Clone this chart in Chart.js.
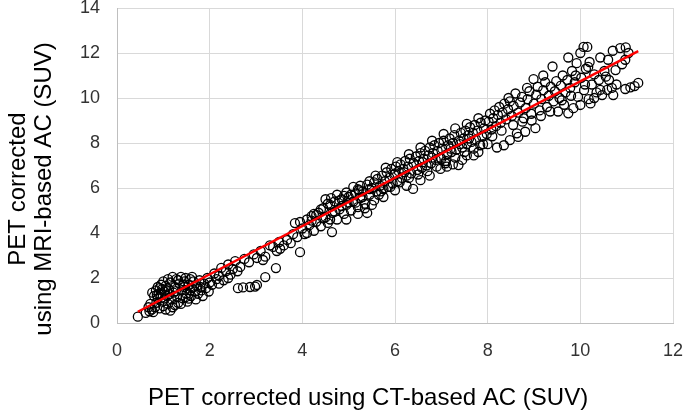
<!DOCTYPE html>
<html>
<head>
<meta charset="utf-8">
<script src="https://cdn.jsdelivr.net/npm/chart.js@4"></script>
<style>
  html, body { margin: 0; padding: 0; background: #ffffff; }
  #wrap { width: 685px; height: 412px; }
</style>
</head>
<body>
<div id="wrap"><canvas id="c" width="685" height="412"></canvas></div>
<script>
// ---- data (SUV: x = CT-based AC, y = MRI-based AC) ----
const lowRange = [
  [0.45,0.28],[0.62,0.45],[0.70,0.52],[0.75,0.60],[0.78,0.48],[0.82,0.70],[0.85,0.90],[0.88,1.10],[0.90,1.30],[0.80,1.20],
  [0.76,1.35],[0.84,1.45],[0.92,1.55],[0.95,1.25],[0.98,0.95],[1.00,0.75],[1.02,1.40],[1.05,1.65],[1.08,1.20],[1.10,0.85],
  [1.12,1.50],[1.15,1.80],[1.18,1.05],[1.20,0.70],[1.22,1.35],[1.25,1.60],[1.28,1.95],[1.30,1.15],[1.32,0.90],[1.35,1.75],
  [1.38,2.05],[1.40,1.45],[1.42,1.10],[1.45,1.85],[1.48,2.00],[1.50,1.30],[1.52,0.95],[1.55,1.70],[1.58,1.95],[1.60,1.20],
  [1.62,1.55],[1.65,1.85],[1.68,1.40],[1.70,1.05],[0.95,1.70],[1.00,1.85],[0.88,1.60],[1.05,0.60],[1.15,0.55],[1.25,0.80],
  [1.38,0.85],[1.45,1.60],[1.72,1.65],[1.75,1.30],[1.78,1.90],[1.82,1.45],[1.85,1.20],[1.88,1.75],[1.92,1.55],[1.95,2.00],
  [1.98,1.40],[0.72,0.85],[0.68,0.70],[0.92,0.65],[1.10,1.95],[1.20,2.05],[1.32,1.90],[1.48,1.15],[1.58,1.45],[1.62,2.05],
  [0.86,1.25],[1.03,1.08],[1.13,1.28],[1.27,1.42],[1.43,1.70],[1.55,1.08],[1.66,1.62],[1.80,1.60],[2.00,1.80],[0.98,1.52]
];
const lowMidRange = [
  [2.05,1.70],[2.10,2.20],[2.15,1.95],[2.20,2.10],[2.25,2.45],[2.30,1.90],[2.35,2.30],[2.40,2.60],[2.45,2.15],[2.50,2.40],
  [2.55,2.75],[2.60,2.30],[2.61,1.55],[2.72,1.58],[2.87,1.60],[2.98,1.62],[3.02,1.69],[3.20,2.04],[3.43,2.44],[2.66,2.49],
  [2.75,2.85],[2.85,2.70],[2.95,3.05],[3.02,2.89],[3.10,3.20],[3.20,2.95],[3.30,3.45],[3.37,3.38],[3.45,3.20],[3.50,3.60],
  [3.60,3.45],[3.67,3.69],[3.75,3.55],[3.80,3.95],[3.89,3.82],[2.20,1.75],[2.40,2.00],[3.95,3.15],[3.52,3.30],[3.15,2.80]
];
const midRange = [
  [3.84,4.44],[3.95,4.49],[4.00,4.20],[4.05,3.95],[4.10,4.60],[4.15,4.35],[4.20,4.75],[4.25,4.10],[4.30,4.50],[4.35,4.90],
  [4.40,4.30],[4.45,5.10],[4.50,4.70],[4.55,4.45],[4.60,5.25],[4.64,4.04],[4.65,4.90],[4.70,5.40],[4.75,4.60],[4.80,5.05],
  [4.85,5.50],[4.90,4.85],[4.95,5.25],[5.00,5.60],[5.05,5.00],[5.10,5.40],[5.15,5.75],[5.20,5.15],[5.25,5.55],[5.30,5.85],
  [5.35,5.30],[5.40,4.89],[5.45,5.70],[5.50,6.00],[5.55,5.45],[5.60,5.85],[4.25,4.85],[4.40,5.05],[4.55,5.30],[4.70,4.95],
  [4.85,5.20],[5.00,5.35],[5.15,5.35],[5.30,5.60],[5.45,5.95],[4.50,5.50],[4.75,5.70],[4.95,5.80],[5.10,6.05],[5.25,6.10],
  [5.40,6.15],[5.55,6.25],[4.95,4.60],[5.20,4.85],[5.35,5.10],[5.50,5.25],[4.10,4.00],[4.30,4.80],[4.60,4.60],[4.62,5.55],
  [4.80,5.45],[4.20,4.55],[4.45,4.65],[5.05,5.70],[5.22,5.90],[5.45,6.30],[5.20,5.95],[4.90,5.65]
];
const upperMidRange = [
  [5.62,6.40],[5.65,5.70],[5.68,6.10],[5.72,6.55],[5.75,5.95],[5.78,6.30],[5.82,6.70],[5.85,6.05],[5.88,6.45],[5.92,6.85],
  [5.95,6.20],[5.98,6.60],[6.02,6.95],[6.05,6.30],[6.08,6.75],[6.12,7.05],[6.15,6.45],[6.18,6.85],[6.22,7.20],[6.25,6.55],
  [6.28,6.95],[6.32,7.30],[6.35,6.65],[6.39,5.96],[6.40,7.10],[6.45,7.40],[6.48,6.80],[6.52,7.20],[6.55,7.55],[6.58,6.90],
  [6.62,7.30],[6.65,7.65],[6.68,7.00],[6.72,7.45],[6.75,7.80],[6.78,7.10],[6.82,7.55],[6.85,7.90],[6.88,7.25],[6.92,7.65],
  [6.95,8.00],[6.98,7.35],[7.02,7.75],[7.05,8.10],[7.09,7.10],[7.12,7.50],[7.15,7.90],[7.18,8.20],[7.22,7.60],[7.25,8.00],
  [7.28,8.35],[7.32,7.70],[7.37,7.02],[7.38,8.10],[7.42,8.45],[7.45,7.80],[7.48,8.20],[7.52,8.55],[7.55,7.95],[7.58,8.35],
  [7.62,8.70],[7.65,8.05],[7.68,8.45],[7.72,8.80],[7.75,8.15],[7.78,8.55],[7.84,7.90],[7.85,8.90],[7.88,8.30],[7.92,8.65],
  [7.95,9.00],[7.98,8.40],[5.70,5.85],[5.90,6.05],[6.10,6.25],[6.30,6.45],[6.50,6.60],[6.70,6.75],[6.90,6.95],[7.10,7.20],
  [7.30,7.35],[7.50,7.60],[7.70,7.75],[7.90,7.95],[6.00,6.65],[6.20,6.70],[6.60,7.15],[6.80,7.35],[7.00,7.30],[7.20,7.75],
  [7.40,7.95],[7.60,8.20],[6.98,6.85],[7.12,6.95],[7.55,7.45],[7.80,7.60]
];
const bandEdges = [
  [5.58,6.55],[5.80,6.90],[6.05,7.15],[6.30,7.50],[6.55,7.80],[6.80,8.10],[7.05,8.40],[7.30,8.65],[7.55,8.85],[7.80,9.10],
  [5.75,5.60],[6.00,5.90],[6.25,6.10],[6.55,6.35],[6.75,6.55],[7.25,7.05],[7.45,7.25],[7.70,7.45],[8.00,7.95]
];
const highRange = [
  [8.02,8.95],[8.05,9.30],[8.08,8.60],[8.12,9.10],[8.15,9.45],[8.18,8.75],[8.20,7.80],[8.22,9.25],[8.25,9.60],[8.28,8.90],
  [8.32,9.35],[8.35,7.90],[8.36,9.75],[8.40,9.05],[8.44,9.50],[8.48,8.13],[8.48,9.85],[8.52,9.20],[8.56,9.65],[8.60,10.20],
  [8.63,8.43],[8.66,8.27],[8.66,9.35],[8.70,9.80],[8.74,10.05],[8.78,9.10],[8.81,8.50],[8.82,9.55],[8.86,9.95],[8.90,10.30],
  [8.94,9.30],[8.99,10.84],[9.00,9.75],[9.03,8.66],[9.05,10.15],[9.08,10.50],[9.12,9.45],[9.16,9.95],[9.20,10.35],[9.24,10.70],
  [9.28,9.60],[9.32,10.10],[9.36,10.50],[9.40,11.40],[9.42,9.85],[9.45,10.30],[9.48,10.75],[8.10,8.30],[8.30,8.55],[8.55,8.80],
  [8.75,8.95],[8.95,9.00],[9.15,9.20],[9.35,9.40],[8.45,10.00],[8.85,10.45],[9.20,11.00]
];
const topRange = [
  [9.52,9.40],[9.55,10.00],[9.58,10.55],[9.62,11.00],[9.65,9.70],[9.68,10.25],[9.72,10.80],[9.74,11.80],[9.74,9.32],[9.78,10.45],
  [9.82,11.20],[9.85,9.55],[9.88,10.70],[9.92,11.55],[9.95,10.05],[10.00,9.69],[10.00,12.00],[10.02,10.90],[10.07,12.27],[10.08,10.35],
  [10.12,11.30],[10.15,12.27],[10.17,11.38],[10.18,9.95],[10.22,9.76],[10.25,10.60],[10.30,11.05],[10.35,10.25],[10.40,10.80],[10.43,11.80],
  [10.43,10.36],[10.47,10.13],[10.52,11.20],[10.58,10.36],[10.60,11.70],[10.62,10.80],[10.68,10.45],[10.70,12.10],[10.71,10.13],[10.76,11.24],
  [10.78,10.60],[10.86,12.22],[10.97,11.70],[10.98,12.25],[10.97,10.40],[11.04,12.00],[11.08,10.47],[11.17,10.53],[11.25,10.67],[9.60,9.90],
  [9.80,10.10],[10.10,10.60],[10.30,10.00],[10.55,10.95],[10.90,11.50],[9.90,11.00],[10.20,11.60]
];
// regression (trend) line end points
const fitX = [0.45, 11.25];
const fitY = [0.50, 12.08];
// axis settings
const xMin = 0, xMax = 12, xStep = 2;
const yMin = 0, yMax = 14, yStep = 2;
const xTitle = "PET corrected using CT-based AC (SUV)";
const yTitleLines = ["PET corrected", "using MRI-based AC (SUV)"];

const allPoints = [].concat(lowRange, lowMidRange, midRange, upperMidRange, bandEdges, highRange, topRange)
  .map(p => ({ x: p[0], y: p[1] }));
const fitPoints = fitX.map((x, i) => ({ x: x, y: fitY[i] }));

const FONT = '"Liberation Sans", Arial, sans-serif';

const titlePlugin = {
  id: 'axisTitles',
  afterDraw(chart) {
    const ctx = chart.ctx;
    ctx.save();
    ctx.fillStyle = '#000000';
    ctx.font = '24px ' + FONT;
    ctx.textAlign = 'left';
    ctx.textBaseline = 'alphabetic';
    ctx.fillText(xTitle, 148, 405);
    ctx.translate(0, 189);
    ctx.rotate(-Math.PI / 2);
    ctx.textAlign = 'center';
    ctx.fillText(yTitleLines[0], 0, 25);
    ctx.fillText(yTitleLines[1], 0, 51);
    ctx.restore();
  }
};

new Chart(document.getElementById('c'), {
  type: 'scatter',
  data: {
    datasets: [
      {
        label: 'fit',
        data: fitPoints,
        showLine: true,
        borderColor: '#ff0000',
        borderWidth: 2.5,
        pointRadius: 0,
        fill: false
      },
      {
        label: 'points',
        data: allPoints,
        pointStyle: 'circle',
        pointRadius: 4.5,
        pointBorderWidth: 1.3,
        borderColor: '#000000',
        backgroundColor: 'rgba(0,0,0,0)',
        pointBackgroundColor: 'rgba(0,0,0,0)',
        pointBorderColor: '#000000'
      }
    ]
  },
  options: {
    responsive: false,
    animation: false,
    events: [],
    layout: { padding: { left: 0, right: 12, top: 8, bottom: 0 } },
    plugins: { legend: { display: false }, tooltip: { enabled: false }, title: { display: false } },
    scales: {
      x: {
        type: 'linear',
        min: xMin, max: xMax,
        ticks: { stepSize: xStep, color: '#333333', font: { family: FONT, size: 18 }, padding: 17 },
        grid: { color: '#d9d9d9', lineWidth: 1, drawTicks: false },
        border: { color: '#bfbfbf', width: 1 },
        afterFit(scale) { scale.height = 89; scale.paddingLeft = 0; scale.paddingRight = 0; }
      },
      y: {
        type: 'linear',
        min: yMin, max: yMax,
        ticks: { stepSize: yStep, color: '#333333', font: { family: FONT, size: 18 }, padding: 17 },
        grid: { color: '#d9d9d9', lineWidth: 1, drawTicks: false },
        border: { color: '#bfbfbf', width: 1 },
        afterFit(scale) { scale.width = 117; scale.paddingTop = 0; scale.paddingBottom = 0; }
      }
    }
  },
  plugins: [titlePlugin]
});
</script>
</body>
</html>
